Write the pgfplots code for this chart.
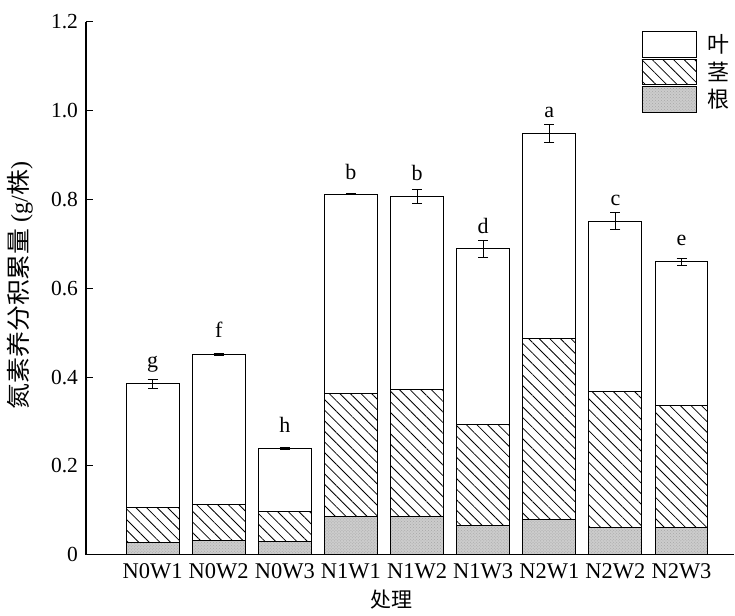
\documentclass[border=0pt]{standalone}
\usepackage{pgfplots}
\pgfplotsset{compat=1.18}
\usepackage{pgfplotstable}
\usetikzlibrary{patterns,patterns.meta}
\usepackage{fontspec}
\setmainfont{Liberation Serif}
\newfontfamily\cjk{Noto Sans CJK SC}
\newfontfamily\cjkw[FakeStretch=1.08]{Noto Sans CJK SC}

% Nitrogen accumulation by organ (g/plant); total = root + stem + leaf
\pgfplotstableread{
x root   stem   leaf   total  err   lab lbly
0 0.0280 0.0785 0.2785 0.3850 0.010 g   0.421
1 0.0310 0.0816 0.3374 0.4500 0.002 f   0.489
2 0.0290 0.0686 0.1414 0.2390 0.003 h   0.275
3 0.0863 0.2757 0.4495 0.8115 0.001 b   0.845
4 0.0863 0.2857 0.4350 0.8070 0.016 b   0.842
5 0.0646 0.2284 0.3955 0.6885 0.020 d   0.723
6 0.0790 0.4080 0.4620 0.9490 0.020 a   0.984
7 0.0615 0.3055 0.3845 0.7515 0.019 c   0.786
8 0.0615 0.2735 0.3250 0.6600 0.008 e   0.696
}\datatable

\pgfplotsset{
  common/.style={
    scale only axis,
    width=649bp, height=533bp,
    xmin=-1.008, xmax=8.80,
    ymin=0, ymax=1.2,
  },
}

\begin{document}
\begin{tikzpicture}
\begin{axis}[
  common,
  name=main,
  ybar stacked,
  bar width=0.8,
  axis x line=bottom,
  axis y line=left,
  axis line style={line width=1.2bp, -},
  every tick/.style={line width=1bp, black},
  major tick length=7bp,
  tick align=inside,
  xtick={0,...,8},
  xticklabels={N0W1,N0W2,N0W3,N1W1,N1W2,N1W3,N2W1,N2W2,N2W3},
  ytick={0,0.2,0.4,0.6,0.8,1.0,1.2},
  yticklabels={0,0.2,0.4,0.6,0.8,1.0,1.2},
  /pgf/number format/assume math mode=true,
  yticklabel style={font=\fontsize{21.5bp}{24bp}\selectfont, xshift=-4.5bp},
  xticklabel style={font=\fontsize{22.5bp}{24bp}\selectfont, yshift=-5.5bp},
  ylabel={{\cjkw 氮素养分积累量} (g/{\cjkw 株})},
  ylabel style={at={(axis description cs:-0.1017,0.505)}, anchor=center,
    font=\fontsize{24bp}{26bp}\selectfont},
  xlabel={\cjk 处理},
  xlabel style={at={(axis description cs:0.4715,-0.085)}, anchor=center,
    font=\fontsize{21bp}{24bp}\selectfont},
  legend image code/.code={%
    \draw[#1, line width=1bp] (0bp,-13bp) rectangle (55bp,13bp);},
  reverse legend,
  legend cell align=left,
  legend style={draw=none, fill=none, inner sep=0pt, outer sep=0pt,
    at={(axis description cs:0.9954,0.983)}, anchor=north east,
    row sep=0.5bp, column sep=8bp,
    font=\fontsize{22bp}{24bp}\selectfont\cjk,
    nodes={inner sep=2bp}},
]
\addplot[draw=black, line width=1bp, fill=black!20,
  postaction={pattern=crosshatch dots, pattern color=black!35}]
  table[x=x, y=root] {\datatable};
\addlegendentry{根}
\addplot[draw=black, line width=1bp, fill=white,
  postaction={pattern={Lines[angle=-45, distance=7.5bp, line width=0.8bp]}}]
  table[x=x, y=stem] {\datatable};
\addlegendentry{茎}
\addplot[draw=black, line width=1bp, fill=white]
  table[x=x, y=leaf] {\datatable};
\addlegendentry{叶}
\end{axis}

\begin{axis}[common, hide axis]
% standard-deviation bars on the bar totals
\addplot[draw=none, mark=none,
  error bars/.cd, y dir=both, y explicit,
  error bar style={line width=1bp, black},
  error mark options={rotate=90, black, line width=1bp, mark size=5bp}]
  table[x=x, y=total, y error=err] {\datatable};
% significance letters
\addplot[only marks, mark=none, nodes near coords, point meta=explicit symbolic,
  nodes near coords style={anchor=base, inner sep=0pt,
    font=\fontsize{22bp}{24bp}\selectfont}]
  table[x=x, y=lbly, meta=lab] {\datatable};
\end{axis}

\path (main.south west) ++(-86bp,-61bp) rectangle ++(735bp,616bp);
\end{tikzpicture}
\end{document}
